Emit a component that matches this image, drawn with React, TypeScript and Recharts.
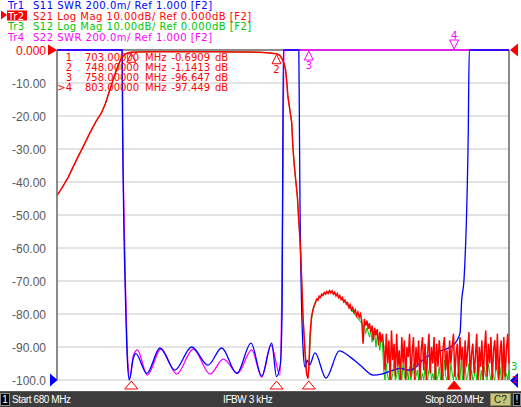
import React from 'react';
import { LineChart, Line, XAxis, YAxis, CartesianGrid, ReferenceLine, ReferenceDot } from 'recharts';

const freqTicks = [680, 694, 708, 722, 736, 750, 764, 778, 792, 806, 820];
const dbTicks = [0, -10, -20, -30, -40, -50, -60, -70, -80, -90, -100];
const dbTickLabels = ['0.000', '-10.00', '-20.00', '-30.00', '-40.00', '-50.00', '-60.00', '-70.00', '-80.00', '-90.00', '-100.0'];

// S21 skirt + passband + upper skirt (MHz, dB)
const s21Main: [number, number][] = [
  [680, -44], [681, -42.6], [682, -41], [683.5, -38.5], [685, -35.4], [686.5, -32.4], [688, -29.5],
  [690, -25.5], [692, -21.8], [693.8, -19], [695, -16.2], [696.4, -12], [697.7, -8], [699, -4.5],
  [700, -2.4], [701, -1.3], [702, -0.85], [703, -0.69], [705, -0.58], [710, -0.52], [715, -0.5],
  [720, -0.5], [725, -0.52], [730, -0.55], [735, -0.6], [740, -0.62], [743, -0.7], [745, -0.8],
  [746.5, -0.95], [748, -1.14], [749, -1.6], [749.7, -2.6], [750.3, -4], [750.8, -6], [751.2, -10],
  [751.5, -14], [752.1, -18], [752.7, -22], [753.1, -30], [753.5, -35], [753.9, -39], [754.5, -45],
  [754.9, -52], [755.3, -58], [755.8, -70], [756.2, -81], [756.8, -91], [757.3, -98], [757.7, -99.5],
  [758, -96.6],
];

// swept points above 758 MHz: 758.4 .. 820 step 0.4
const tailStart = 758.4;
const tailStep = 0.4;
const s21Tail = [
  -86, -81, -79, -77.5, -76.8, -75.5, -75.8, -74.6, -75, -74,
  -74.4, -73.5, -74, -73.2, -73.8, -72.9, -73.6, -73, -74, -73.4,
  -74.5, -73.8, -75, -74.4, -75.6, -75, -76.3, -75.8, -77, -76.6,
  -78, -77.2, -78.8, -78, -79.6, -78.8, -80.5, -79.4, -81, -80,
  -82.2, -89, -81.5, -83.5, -82, -84.5, -82.8, -85.5, -83.5, -88,
  -84.2, -86.5, -84.6, -89.5, -85.4, -88.5, -86,
  -90, -97, -86, -95, -88, -100, -85, -94, -89, -99,
  -86, -96, -91, -100, -87, -95, -88, -100, -90, -93,
  -86, -99, -92, -87, -100, -90, -96, -88, -100, -91,
  -87, -97, -89, -100, -92, -86, -98, -90, -95, -87,
  -100, -89, -96, -88, -93, -100, -90, -87, -97, -91,
  -100, -88, -95, -90, -86, -99, -92, -89, -100, -87,
  -94, -90, -100, -88, -96, -91, -85.5, -100, -92, -89,
  -98, -93, -86, -100, -90, -96, -88, -100, -91, -85,
  -99, -89, -95, -87, -100, -91, -88, -97, -86, -100,
  -92, -88, -100, -87, -99, -91, -86, -95,
];
const s12Tail = [
  -88, -82, -79.5, -78, -76.2, -76, -75.1, -75.3, -74.5, -74.6,
  -73.9, -74, -73.4, -73.7, -73.2, -73.5, -73.1, -73.6, -73.5, -74,
  -73.9, -74.4, -74.5, -75.1, -75, -75.8, -75.9, -76.6, -76.5, -77.5,
  -77.6, -78.5, -78.2, -79.4, -79.6, -80.4, -80.6, -81.5, -81.6, -82.5,
  -82.6, -84, -83.5, -86, -84.2, -85.5, -87, -84.8, -88.5, -86,
  -85.5, -90, -86.5, -88, -91, -87, -89,
  -97, -100, -95, -99, -100, -96, -100, -98, -94, -100,
  -99, -96, -100, -97, -100, -95, -99, -100, -97, -100,
  -96, -100, -98, -95, -100, -99, -97, -100, -94, -100,
  -98, -100, -96, -99, -100, -97, -95, -100, -98, -100,
  -95, -100, -99, -96, -100, -98, -100, -94, -99, -100,
  -97, -100, -95, -98, -100, -96, -100, -99, -97, -100,
  -94, -100, -98, -96, -100, -99, -95, -100, -97, -100,
  -99, -96, -100, -98, -95, -100, -97, -100, -96, -99,
  -100, -95, -98, -100, -97, -99, -100, -94, -98, -100,
  -96, -100, -99, -95, -100, -98, -100, -97,
];

// SWR traces (MHz, SWR); 3.0 = clamped at top of screen
const s11Swr: [number, number][] = [
  [680, 3], [700.2, 3], [700.3, 2.59], [700.55, 2.14], [701.2, 1.5], [701.8, 1.12], [702.4, 1.0],
  [703.6, 1.13], [704.4, 1.16], [707.8, 1.04], [711.9, 1.194], [716.5, 1.06], [721.7, 1.2],
  [726.8, 1.09], [731, 1.194], [735.7, 1.04], [740.1, 1.224], [743.4, 1.024], [746.5, 1.224],
  [748, 1.02], [749.2, 1.1], [749.7, 1.4], [750.1, 3], [754.9, 3], [755.1, 2.48], [755.3, 2.0],
  [755.7, 1.5], [756.29, 1.164], [756.81, 1.078], [757.5, 1.12], [758.2, 1.09], [759.91, 1.164],
  [763.32, 1.012], [767.44, 1.176], [770.75, 1.14], [773.85, 1.091], [777.97, 1.03], [780.57, 1.036],
  [784.16, 1.06], [786.24, 1.07], [789.34, 1.06], [794.51, 1.141], [798, 1.17], [802.75, 1.212],
  [804.82, 1.283], [805.35, 1.485], [806.06, 1.606], [807.39, 2.515], [807.45, 2.626], [807.7, 3],
  [820, 3],
];
const s22Swr: [number, number][] = [
  [680, 3], [700.2, 3], [700.35, 2.55], [700.65, 2.1], [701.3, 1.5], [701.9, 1.12], [702.5, 1.01],
  [703.7, 1.15], [704.87, 1.182], [707.97, 1.03], [712.21, 1.188], [717.07, 1.036], [722.22, 1.188],
  [727.39, 1.036], [731.51, 1.127], [735.97, 1.042], [740.3, 1.182], [743.4, 1.018], [746.28, 1.212],
  [749.07, 1.03], [749.6, 1.485], [750.0, 2.28], [750.3, 3], [820, 3],
];

const markerRows = [
  { n: '1', f: '703.00000', v: '-0.6909' },
  { n: '2', f: '748.00000', v: '-1.1413' },
  { n: '3', f: '758.00000', v: '-96.647' },
  { n: '>4', f: '803.00000', v: '-97.449' },
];
const markerFreqs = [703, 748, 758, 803];

const pts = (a: [number, number][]) => a.map(([f, v]) => ({ f, v }));
const tail = (vals: number[]) => vals.map((v, i) => ({ f: +(tailStart + i * tailStep).toFixed(2), v }));

const s21Data = [...pts(s21Main), ...tail(s21Tail)];
const s12Data = [...pts(s21Main), ...tail(s12Tail)];
const s11Data = pts(s11Swr);
const s22Data = pts(s22Swr);

const RED = '#ff0000';
const BLUE = '#0000ff';
const GREEN = '#00c800';
const MAG = '#ff00ff';
const FRAME = '#6e6e6e';
const FONT = '"DejaVu Sans", sans-serif';

const DbTick = (props: any) => {
  const { y, payload } = props;
  const i = dbTicks.indexOf(payload.value);
  return (
    <text x={46} y={y + 4.5} textAnchor="end" fontSize={12} fontFamily='"Liberation Sans", Arial'
      fill={i === 0 ? RED : '#5a5a5a'}>
      {dbTickLabels[i]}
    </text>
  );
};

const upMarker = (color: string, label: string) => (p: any) => (
  <g>
    <path d={`M${p.cx},${p.cy + 1} L${p.cx + 4.5},${p.cy + 10} L${p.cx - 4.5},${p.cy + 10} Z`} fill="none" stroke={color} strokeWidth={1} />
    <text x={p.cx} y={p.cy + 19} textAnchor="middle" fontSize={10} fontFamily={FONT} fill={color}>{label}</text>
  </g>
);
const downMarker = (color: string, label: string) => (p: any) => (
  <g>
    <path d={`M${p.cx},${p.cy - 1} L${p.cx + 4.5},${p.cy - 10} L${p.cx - 4.5},${p.cy - 10} Z`} fill="none" stroke={color} strokeWidth={1} />
    <text x={p.cx} y={p.cy - 11} textAnchor="middle" fontSize={10} fontFamily={FONT} fill={color}>{label}</text>
  </g>
);
const stimMarker = (active: boolean) => (p: any) => (
  <path d={`M${p.cx},${p.cy + 1} L${p.cx + 6.5},${p.cy + 9} L${p.cx - 6.5},${p.cy + 9} Z`}
    fill={active ? RED : 'none'} stroke={RED} strokeWidth={1} />
);

const headers = [
  { tr: 'Tr1', rest: 'S11 SWR 200.0m/ Ref 1.000 [F2]', color: BLUE, y: 9 },
  { tr: 'Tr2', rest: 'S21 Log Mag 10.00dB/ Ref 0.000dB [F2]', color: RED, y: 19.5 },
  { tr: 'Tr3', rest: 'S12 Log Mag 10.00dB/ Ref 0.000dB [F2]', color: GREEN, y: 30 },
  { tr: 'Tr4', rest: 'S22 SWR 200.0m/ Ref 1.000 [F2]', color: MAG, y: 40.5 },
];

const barText = { position: 'absolute' as const, top: 1, lineHeight: '13px', letterSpacing: -0.4 };

export default function App() {
  return (
    <div style={{ position: 'relative', width: 521, height: 407, background: '#fff', overflow: 'hidden' }}>
      <style>{`body{margin:0}`}</style>
      <div style={{ position: 'absolute', left: 0, top: 0 }}>
        <LineChart width={521} height={407} margin={{ top: 50, right: 12, bottom: 27, left: 0 }}>
          <CartesianGrid stroke="#c8c8c8" />
          <XAxis type="number" dataKey="f" domain={[680, 820]} ticks={freqTicks} tick={false} tickLine={false}
            height={0} axisLine={{ stroke: FRAME, strokeWidth: 1.5 }} />
          <YAxis type="number" domain={[-100, 0]} ticks={dbTicks} width={57} tick={DbTick} tickLine={false}
            axisLine={{ stroke: FRAME, strokeWidth: 1.5 }} interval={0} />
          <YAxis yAxisId="swr" type="number" domain={[1, 3]} hide />
          <ReferenceLine y={0} stroke={FRAME} strokeWidth={1.5} />
          <ReferenceLine x={820} stroke={FRAME} strokeWidth={1.5} />
          <Line yAxisId="swr" data={s22Data} dataKey="v" type="monotoneX" stroke={MAG} strokeWidth={1.3}
            dot={false} isAnimationActive={false} />
          <Line data={s12Data} dataKey="v" type="linear" stroke={GREEN} strokeWidth={1}
            dot={false} isAnimationActive={false} />
          <Line yAxisId="swr" data={s11Data} dataKey="v" type="monotoneX" stroke={BLUE} strokeWidth={1.3}
            dot={false} isAnimationActive={false} />
          <Line data={s21Data} dataKey="v" type="linear" stroke={RED} strokeWidth={1.5}
            dot={false} isAnimationActive={false} />
          <ReferenceDot x={703} y={-0.69} r={0} shape={upMarker(RED, '')} />
          <ReferenceDot x={748} y={-1.14} r={0} shape={upMarker(RED, '2')} />
          <ReferenceDot yAxisId="swr" x={758} y={3} r={0} shape={upMarker(MAG, '3')} />
          <ReferenceDot yAxisId="swr" x={803} y={3} r={0} shape={downMarker(MAG, '4')} />
          {markerFreqs.map((f, i) => (
            <ReferenceDot key={f} x={f} y={-100} r={0} shape={stimMarker(i === 3)} />
          ))}
        </LineChart>
      </div>
      <svg width={521} height={407} style={{ position: 'absolute', left: 0, top: 0, pointerEvents: 'none' }}>
        {headers.map((h, i) => (
          <g key={h.tr} fontFamily={FONT} fontSize={10} letterSpacing={0.5}>
            {i === 1 && (
              <>
                <path d="M1,10.5 L7,15 L1,19.5 Z" fill={RED} />
                <rect x={7} y={10.5} width={20} height={10} fill={RED} />
              </>
            )}
            <text x={8} y={h.y} fill={i === 1 ? '#fff' : h.color}>{h.tr}</text>
            <text x={33} y={h.y} fill={h.color}>{h.rest}</text>
          </g>
        ))}
        {markerRows.map((m, i) => (
          <g key={m.n} fontFamily={FONT} fontSize={10} fill={RED}>
            <text x={72} y={61 + i * 10} textAnchor="end">{m.n}</text>
            <text x={85} y={61 + i * 10}>{m.f}</text>
            <text x={145} y={61 + i * 10}>MHz</text>
            <text x={210} y={61 + i * 10} textAnchor="end">{m.v}</text>
            <text x={215} y={61 + i * 10}>dB</text>
          </g>
        ))}
        <path d="M48,44.5 L57,50 L48,55.5 Z" fill={RED} />
        <path d="M50,373.5 L57.5,380 L50,386.5 Z" fill={BLUE} />
        <path d="M518,43.5 L510,50 L518,56.5 Z" fill={RED} />
        <text x={511} y={370} fontFamily={FONT} fontSize={10} fill={GREEN}>3</text>
        <path d="M518,373 L510,380.5 L518,388 Z" fill={BLUE} />
        <text x={512} y={383} fontFamily={FONT} fontSize={8} fill={RED}>2</text>
      </svg>
      <div style={{ position: 'absolute', left: 0, top: 391, width: 521, height: 16, background: '#3c3c3c',
        borderTop: '1px solid #5a5a5a', boxSizing: 'border-box', fontFamily: '"Liberation Sans", Arial',
        fontSize: 10, color: '#fff' }}>
        <div style={{ position: 'absolute', left: 0, top: 1, width: 10, height: 13, background: '#000',
          border: '1px solid #8a8a8a', boxSizing: 'border-box', textAlign: 'center', lineHeight: '11px' }}>1</div>
        <div style={{ ...barText, left: 12 }}>Start 680 MHz</div>
        <div style={{ ...barText, left: 223 }}>IFBW 3 kHz</div>
        <div style={{ ...barText, left: 425 }}>Stop 820 MHz</div>
        <div style={{ position: 'absolute', left: 490, top: 1, width: 21, height: 13, background: '#c8c878',
          border: '1px solid #8a8a60', boxSizing: 'border-box', color: '#202020', textAlign: 'center',
          lineHeight: '11px' }}>C?</div>
        <div style={{ position: 'absolute', left: 513, top: 1, width: 8, height: 13, background: '#000',
          border: '1px solid #8a8a8a', boxSizing: 'border-box', textAlign: 'center', lineHeight: '11px' }}>!</div>
      </div>
    </div>
  );
}
